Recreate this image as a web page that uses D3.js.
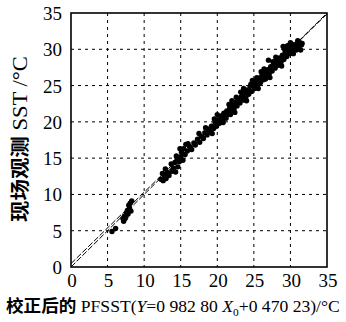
<!DOCTYPE html>
<html>
<head>
<meta charset="utf-8">
<script src="https://cdn.jsdelivr.net/npm/d3@7"></script>
<style>
  body { margin: 0; background: #fff; }
  svg { display: block; }
</style>
</head>
<body>
<script>
const width = 346;
const height = 322;

// tick values for both axes
const xTicks = [0, 5, 10, 15, 20, 25, 30, 35];
const yTicks = [0, 5, 10, 15, 20, 25, 30, 35];

// regression Y = 0.98280 X0 + 0.47023, plus 1:1 line
const fitSlope = 0.98280;
const fitIntercept = 0.47023;

// corrected PFSST (x) vs in-situ SST (y)
const pfsst = [
  5.6, 6.1, 7.2, 7.4, 7.3, 7.6, 7.8, 7.7, 8.0, 7.9, 8.1, 8.3, 7.5,
  12.3, 12.6, 12.8, 13.0, 12.5, 13.2, 13.4, 13.8, 14.0, 14.3, 14.6, 14.2, 14.5, 14.8, 15.0, 15.3,
  15.1, 15.6, 15.4, 15.9, 16.2, 16.5, 16.8, 17.0, 17.3, 17.6, 17.8, 18.1, 18.3, 18.6,
  18.8, 19.0, 19.2, 19.5, 19.7, 19.9, 20.1, 20.3, 20.5, 20.7, 20.9, 21.1, 21.3, 21.5, 21.7, 21.9,
  22.1, 22.3, 22.5, 22.7, 22.9, 23.1, 23.3, 23.5, 23.7, 23.9, 24.1, 24.3, 24.5, 24.7, 24.9, 25.1,
  25.3, 25.5, 25.7, 25.9, 26.1, 26.3, 26.5, 26.7, 26.9, 27.1, 27.3, 27.5, 27.7, 27.9, 28.1, 28.3,
  28.5, 28.7, 28.9, 29.1, 29.3, 29.5, 29.7, 29.9, 30.1, 30.3, 30.5, 30.7, 30.9, 31.1, 31.3, 31.5,
  27.0, 29.0, 30.0,
  19.3, 20.0, 20.8, 21.6, 22.4, 23.2, 24.0, 24.8, 25.6, 26.4, 27.2, 28.0, 28.8, 29.6, 30.4, 31.0,
  31.4, 26.0, 23.6, 22.0, 17.5, 16.0, 14.9, 13.7, 12.9,
  19.6, 20.4, 21.2, 22.6, 23.8, 24.6, 25.4, 26.6, 27.6, 28.4, 29.2, 30.2, 30.8, 31.6, 21.8, 18.4,
  15.7, 14.4, 13.3, 8.2, 7.1
];
const insitu = [
  4.9, 5.3, 6.3, 6.7, 7.0, 7.4, 7.3, 7.8, 8.1, 8.5, 8.8, 9.1, 6.9,
  12.1, 11.9, 12.5, 12.2, 12.9, 13.0, 12.6, 13.2, 13.6, 13.1, 13.8, 14.4, 14.9, 14.5, 15.2, 14.7,
  15.8, 15.5, 16.3, 16.0, 16.6, 16.2, 17.1, 16.8, 17.6, 17.2, 18.0, 17.7, 18.5, 18.2,
  19.0, 18.6, 19.4, 19.1, 19.9, 19.4, 20.3, 19.8, 20.8, 20.2, 21.2, 20.7, 21.5, 21.0, 21.9, 21.4,
  22.3, 21.8, 22.7, 22.2, 23.1, 22.6, 23.5, 23.0, 24.0, 23.4, 24.4, 23.8, 24.9, 24.2, 25.2, 24.6,
  25.6, 25.0, 26.0, 25.4, 26.4, 25.8, 26.8, 26.2, 27.2, 26.6, 27.6, 27.0, 28.0, 27.4, 28.4, 27.8,
  28.8, 28.2, 29.2, 28.6, 29.6, 29.0, 30.0, 29.4, 30.3, 29.8, 30.6, 30.1, 30.8, 30.4, 30.9, 30.6,
  28.5, 30.4, 30.9,
  18.4, 21.0, 19.9, 22.4, 21.3, 24.1, 22.9, 25.7, 24.6, 27.3, 26.1, 28.9, 27.7, 30.5, 29.4, 31.2,
  29.9, 26.9, 24.6, 22.9, 18.4, 17.0, 16.3, 14.2, 13.5,
  20.4, 20.1, 20.5, 23.4, 23.0, 25.2, 26.1, 25.9, 28.3, 27.9, 30.0, 30.7, 29.9, 30.8, 21.0, 19.2,
  16.9, 15.3, 12.8, 7.7, 6.7
];

const points = pfsst.map((v, i) => ({x: v, y: insitu[i]}));

const svg = d3.select('body').append('svg')
    .attr('width', width)
    .attr('height', height);

const x = d3.scaleLinear().domain([0, 35]).range([71, 327]);
const y = d3.scaleLinear().domain([0, 35]).range([267, 13]);

svg.append('defs').append('clipPath')
    .attr('id', 'plot-clip')
    .append('rect')
    .attr('x', x(0)).attr('y', y(35))
    .attr('width', x(35) - x(0)).attr('height', y(0) - y(35));

// dashed grid
const grid = svg.append('g')
    .attr('stroke', '#000')
    .attr('stroke-width', 1)
    .attr('stroke-dasharray', '3,4');

grid.selectAll('.gx')
    .data(xTicks.slice(1, -1))
    .enter().append('line')
    .attr('x1', d => x(d)).attr('x2', d => x(d))
    .attr('y1', y(35)).attr('y2', y(0));

grid.selectAll('.gy')
    .data(yTicks.slice(1, -1))
    .enter().append('line')
    .attr('x1', x(0)).attr('x2', x(35))
    .attr('y1', d => y(d)).attr('y2', d => y(d));

// 1:1 line and fitted line
const lineData = [
  [[0, 0], [35, 35]],
  [[0, fitIntercept], [35, fitSlope * 35 + fitIntercept]]
];
svg.append('g')
    .attr('clip-path', 'url(#plot-clip)')
    .selectAll('path')
    .data(lineData)
    .enter().append('path')
    .attr('d', d3.line().x(d => x(d[0])).y(d => y(d[1])))
    .attr('fill', 'none')
    .attr('stroke', '#000')
    .attr('stroke-width', 1)
    .attr('stroke-dasharray', '6,2');

// scatter
svg.append('g')
    .selectAll('circle')
    .data(points)
    .enter().append('circle')
    .attr('cx', d => x(d.x))
    .attr('cy', d => y(d.y))
    .attr('r', 2.7)
    .attr('fill', '#000');

// frame
svg.append('rect')
    .attr('x', x(0)).attr('y', y(35))
    .attr('width', x(35) - x(0)).attr('height', y(0) - y(35))
    .attr('fill', 'none')
    .attr('stroke', '#000')
    .attr('stroke-width', 1.6);

// tick labels
const tickFont = '"Liberation Serif", "Times New Roman", serif';

svg.append('g')
    .selectAll('text')
    .data(xTicks)
    .enter().append('text')
    .attr('x', d => x(d) + 1)
    .attr('y', 287)
    .attr('text-anchor', 'middle')
    .attr('font-family', tickFont)
    .attr('font-size', 19)
    .text(d => d);

svg.append('g')
    .selectAll('text')
    .data(yTicks)
    .enter().append('text')
    .attr('x', 62)
    .attr('y', d => y(d) + 7)
    .attr('text-anchor', 'end')
    .attr('font-family', tickFont)
    .attr('font-size', 19)
    .text(d => d);

// x title
const cjk = '"Noto Sans CJK SC", sans-serif';
const xt = svg.append('text')
    .attr('x', 0)
    .attr('y', 312)
    .attr('font-family', tickFont)
    .attr('font-size', 17);
xt.append('tspan').attr('font-family', cjk).attr('font-weight', 'bold').text('校正后的');
xt.append('tspan').text(' PFSST(');
xt.append('tspan').attr('font-style', 'italic').text('Y');
xt.append('tspan').text('=0 982 80 ');
xt.append('tspan').attr('font-style', 'italic').text('X');
xt.append('tspan').attr('font-size', 11).attr('dy', 4).text('0');
xt.append('tspan').attr('dy', -4).text('+0 470 23)/°C');

const xb = xt.node().getBBox();
xt.attr('transform', `translate(6,0) scale(${334 / xb.width},1)`);

// y title
const yt = svg.append('text')
    .attr('font-family', tickFont)
    .attr('font-size', 20)
    .attr('text-anchor', 'start');
yt.append('tspan').attr('font-family', cjk).attr('font-weight', 'bold').attr('font-size', 19).text('现场观测');
yt.append('tspan').text(' SST /°C');
const yb = yt.node().getBBox();
const ys = 166 / yb.width;
yt.attr('transform', `translate(27,222) rotate(-90) scale(${ys},1)`);
</script>
</body>
</html>
